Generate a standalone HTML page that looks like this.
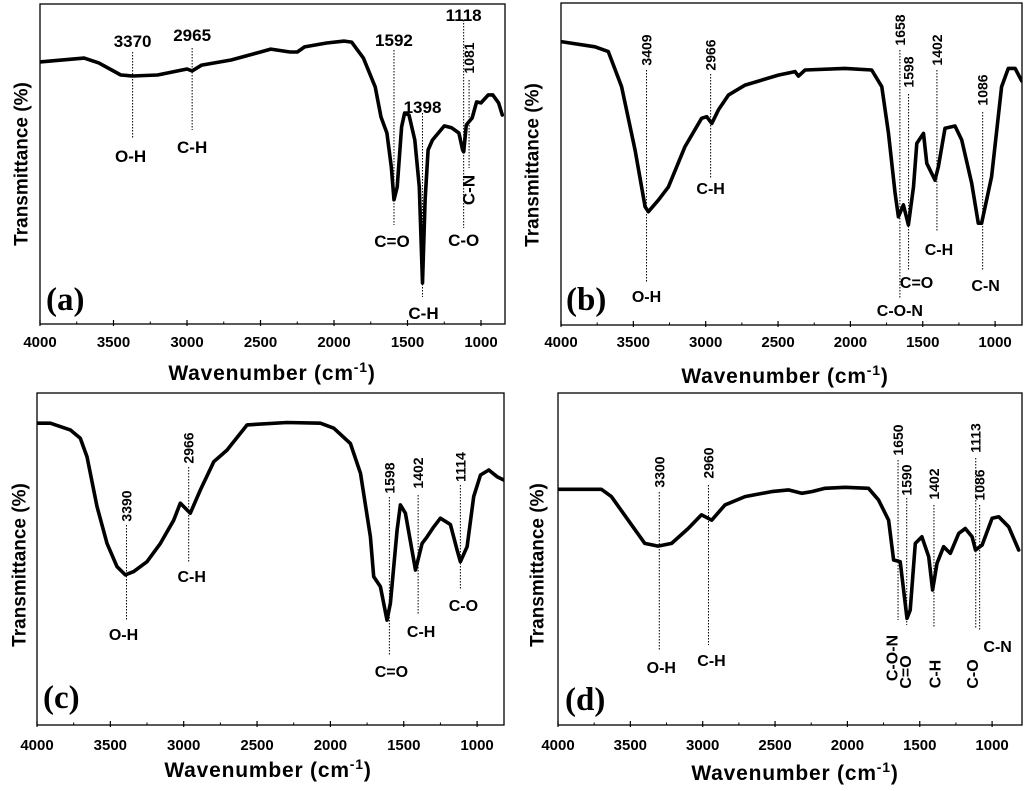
<!DOCTYPE html>
<html><head><meta charset="utf-8">
<style>
html,body{margin:0;padding:0;background:#fff;}
svg{display:block;}
text{font-family:"Liberation Sans",Arial,sans-serif;fill:#000;}
.tk{font-size:15px;font-weight:bold;}
.ax{font-size:21px;font-weight:bold;letter-spacing:0.8px;}
.yl{font-size:19px;font-weight:bold;}
.pl{font-family:"Liberation Serif",serif;font-size:33px;font-weight:bold;}
.an{font-size:16px;font-weight:bold;}
.ar{font-size:14px;font-weight:bold;}
.anA{font-size:17px;font-weight:bold;}
</style></head>
<body>
<svg id="fig" width="1024" height="791" viewBox="0 0 1024 791" xmlns="http://www.w3.org/2000/svg"></svg>
<script>
// ---- data (transmittance, 0 = bottom of frame, 100 = top of frame) ----
const wnA = [4000,3700,3600,3450,3370,3200,3000,2965,2900,2700,2500,2430,2300,2250,2200,2050,1930,1880,1800,1720,1680,1640,1610,1592,1570,1540,1520,1490,1450,1420,1398,1380,1360,1330,1250,1200,1150,1125,1118,1100,1060,1030,1000,950,920,880,855];
const tA  = [81.9,83.1,81.6,77.8,77.5,77.8,79.7,79.1,80.9,82.5,85,85.9,85,85,86.6,87.8,88.4,88.1,83.1,74.1,64.7,59.7,49.1,38.8,42.8,61.6,65.9,65.3,57.5,42.8,12.8,38.8,54.4,57.5,61.9,61.3,59.7,54.4,53.8,62.2,64.4,69.4,69.1,71.6,71.6,69.1,65.3];
const wnB = [4000,3765,3673,3581,3488,3419,3396,3327,3258,3143,3028,2993,2958,2912,2843,2728,2498,2383,2359,2313,2037,1853,1783,1737,1691,1668,1634,1599,1564,1541,1495,1472,1415,1392,1346,1277,1231,1162,1116,1093,1024,955,909,862,816];
const tB  = [88.0,86.4,84.9,74.0,54.3,36.7,35.2,38.8,42.9,55.4,64.2,64.7,62.6,66.8,71.4,74.5,77.6,78.7,77.3,79.2,79.7,79.2,74.0,59.5,40.9,33.6,37.3,31.1,42.9,56.4,59.5,50.2,45.0,49.2,61.1,61.8,57.5,44.0,31.6,31.6,46.1,74.0,79.7,79.7,75.8];
const wnC = [4000,3909,3773,3705,3659,3591,3523,3455,3398,3341,3250,3159,3068,3023,2955,2886,2795,2705,2568,2295,2068,1977,1864,1795,1727,1705,1659,1614,1591,1545,1523,1489,1420,1375,1341,1295,1250,1182,1136,1114,1068,1023,977,920,864,818];
const tC  = [90.9,90.9,88.9,86.4,80.8,65.8,54.7,47.7,45.2,46.2,49.2,54.7,61.7,66.8,63.8,70.8,79.3,82.8,90.4,91.1,90.9,89.4,84.8,75.8,56.7,44.7,41.7,31.6,36.7,58.7,66.3,63.8,46.7,54.7,56.7,59.7,62.3,60.4,52.7,49.2,53.7,68.8,75.3,76.8,74.8,73.8];
const wnD = [4000,3700,3631,3515,3400,3308,3215,3100,3008,2938,2846,2708,2523,2408,2316,2246,2154,2015,1854,1785,1715,1681,1635,1588,1566,1531,1485,1438,1411,1381,1335,1289,1231,1185,1138,1115,1069,1000,954,885,816];
const tD  = [71.0,71.0,68.8,61.7,54.7,53.9,54.7,59.2,63.3,61.7,66.3,68.8,70.3,70.8,69.8,70.3,71.3,71.6,71.3,67.8,61.7,49.7,49.2,32.1,34.6,54.7,56.7,50.7,40.7,48.7,53.7,51.7,57.7,59.2,56.7,52.7,54.2,62.3,62.7,59.7,52.7];
const tickVals = [4000,3500,3000,2500,2000,1500,1000];
const minorVals = [3750,3250,2750,2250,1750,1250];

const NS="http://www.w3.org/2000/svg";
const svg=document.getElementById('fig');
function mk(tag,attrs,parent,txt){const e=document.createElementNS(NS,tag);for(const k in attrs)e.setAttribute(k,attrs[k]);if(txt!==undefined)e.textContent=txt;(parent||svg).appendChild(e);return e;}

const panels=[
 {id:'a',L:40,R:505,T:4,B:324,x4000:40,k:0.147,wn:wnA,t:tA,letter:'(a)',lx:46,ly:310,titleX:272,titleY:380,ylX:22,ylY:164,tickY:347,cls:'anA',
  ann:[
   {w:3370,num:'3370',rot:false,ny:47,l1:52,l2:138,lab:'O-H',lr:false,lx:-2,ly:162},
   {w:2965,num:'2965',rot:false,ny:41,l1:48,l2:130,lab:'C-H',lr:false,lx:0,ly:153},
   {w:1592,num:'1592',rot:false,ny:46,l1:50,l2:225,lab:'C=O',lr:false,lx:-2,ly:247},
   {w:1398,num:'1398',rot:false,ny:113,l1:113,l2:297,lab:'C-H',lr:false,lx:1,ly:319},
   {w:1118,num:'1118',rot:false,ny:21,l1:20,l2:228,lab:'C-O',lr:false,lx:0,ly:246},
   {w:1081,num:'1081',rot:true,nc:58,l1:80,l2:168,lab:'C-N',lr:true,lx:0,lc:190}
  ]},
 {id:'b',L:561,R:1022,T:3,B:325,x4000:561,k:0.1447,wn:wnB,t:tB,letter:'(b)',lx:566,ly:310,titleX:785,titleY:383,ylX:533,ylY:165,tickY:347,cls:'an',
  ann:[
   {w:3409,num:'3409',rot:true,nc:50,l1:70,l2:283,lab:'O-H',lr:false,lx:0,ly:302},
   {w:2966,num:'2966',rot:true,nc:55,l1:74,l2:178,lab:'C-H',lr:false,lx:0,ly:194},
   {w:1658,num:'1658',rot:true,nc:30,l1:50,l2:298,lab:'C-O-N',lr:false,lx:0,ly:316},
   {w:1598,num:'1598',rot:true,nc:72,l1:94,l2:270,lab:'C=O',lr:false,lx:8,ly:288},
   {w:1402,num:'1402',rot:true,nc:50,l1:70,l2:232,lab:'C-H',lr:false,lx:2,ly:255},
   {w:1086,num:'1086',rot:true,nc:90,l1:112,l2:270,lab:'C-N',lr:false,lx:3,ly:291}
  ]},
 {id:'c',L:37,R:504,T:393,B:725,x4000:37,k:0.1467,wn:wnC,t:tC,letter:'(c)',lx:43,ly:708,titleX:268,titleY:777,ylX:20,ylY:565,tickY:750,cls:'an',
  ann:[
   {w:3390,num:'3390',rot:true,nc:506,l1:525,l2:620,lab:'O-H',lr:false,lx:-3,ly:640},
   {w:2966,num:'2966',rot:true,nc:448,l1:467,l2:563,lab:'C-H',lr:false,lx:3,ly:582},
   {w:1598,num:'1598',rot:true,nc:478,l1:497,l2:655,lab:'C=O',lr:false,lx:2,ly:677},
   {w:1402,num:'1402',rot:true,nc:473,l1:495,l2:615,lab:'C-H',lr:false,lx:3,ly:637},
   {w:1114,num:'1114',rot:true,nc:467,l1:485,l2:590,lab:'C-O',lr:false,lx:3,ly:611}
  ]},
 {id:'d',L:558,R:1022,T:393,B:725,x4000:558,k:0.1447,wn:wnD,t:tD,letter:'(d)',lx:565,ly:710,titleX:795,titleY:780,ylX:538,ylY:565,tickY:750,cls:'an',
  ann:[
   {w:3300,num:'3300',rot:true,nc:472,l1:492,l2:650,lab:'O-H',lr:false,lx:2,ly:673},
   {w:2960,num:'2960',rot:true,nc:463,l1:485,l2:645,lab:'C-H',lr:false,lx:3,ly:666},
   {w:1650,num:'1650',rot:true,nc:440,l1:460,l2:620,lab:'C-O-N',lr:true,lx:-5,lc:658},
   {w:1590,num:'1590',rot:true,nc:480,l1:498,l2:625,lab:'C=O',lr:true,lx:0,lc:672},
   {w:1402,num:'1402',rot:true,nc:484,l1:505,l2:628,lab:'C-H',lr:true,lx:2,lc:674},
   {w:1113,num:'1113',rot:true,nc:438,l1:458,l2:628,lab:'C-O',lr:true,lx:-2,lc:674},
   {w:1086,num:'1086',rot:true,nc:485,l1:505,l2:630,lab:'C-N',lr:false,lx:18,ly:652}
  ]}
];

panels.forEach(p=>{
  const g=mk('g',{});
  
  
  const xs=w=>p.x4000+(4000-w)*p.k;
  const ys=v=>p.B-(v/100)*(p.B-p.T);
  const cp=mk('clipPath',{id:'clip'+p.id},g);
  mk('rect',{x:p.L,y:p.T,width:p.R-p.L,height:p.B-p.T},cp);
  const fr=mk('rect',{x:p.L,y:p.T,width:p.R-p.L,height:p.B-p.T,fill:'none',stroke:'#000','stroke-width':1.3},g);
  
  
  tickVals.forEach(v=>{
    mk('line',{x1:xs(v),x2:xs(v),y1:p.B-4,y2:p.B+2,stroke:'#000','stroke-width':1.2},g);
    const t=mk('text',{x:xs(v),y:p.tickY,'text-anchor':'middle',class:'tk'},g,String(v));
    
    
  });
  minorVals.forEach(v=>{mk('line',{x1:xs(v),x2:xs(v),y1:p.B-2.5,y2:p.B,stroke:'#000','stroke-width':1},g);});
  const xt=mk('text',{x:p.titleX,y:p.titleY,'text-anchor':'middle',class:'ax'},g);
  
  
  mk('tspan',{},xt,'Wavenumber (cm');
  mk('tspan',{dy:-8,'font-size':14},xt,'-1');
  mk('tspan',{dy:8},xt,')');
  const yt=mk('text',{x:p.ylX,y:p.ylY,'text-anchor':'middle',class:'yl',transform:'rotate(-90 '+(p.ylX)+' '+p.ylY+')','dominant-baseline':'central'},g,'Transmittance (%)');
  
  
  const pl=mk('text',{x:p.lx,y:p.ly,class:'pl'},g,p.letter);
  
  
  p.ann.forEach(a=>{
    const x=xs(a.w);
    const ln=mk('line',{x1:x,x2:x,y1:a.l1,y2:a.l2,stroke:'#000','stroke-width':1,'stroke-dasharray':'1.5,1.5'},g);
    
    
    let nt;
    if(a.rot){
      nt=mk('text',{x:x,y:a.nc,'text-anchor':'middle','dominant-baseline':'central',class:'ar',transform:'rotate(-90 '+x+' '+a.nc+')'},g,a.num);
    } else {
      nt=mk('text',{x:x,y:a.ny,'text-anchor':'middle',class:p.cls},g,a.num);
    }
    
    
    let lt;
    if(a.lr){
      const lx=x+a.lx;
      lt=mk('text',{x:lx,y:a.lc,'text-anchor':'middle','dominant-baseline':'central',class:p.cls,transform:'rotate(-90 '+lx+' '+a.lc+')'},g,a.lab);
    } else {
      lt=mk('text',{x:x+a.lx,y:a.ly,'text-anchor':'middle',class:p.cls},g,a.lab);
    }
    
    
  });
  let d='';
  p.wn.forEach((w,i)=>{d+=(i?'L':'M')+xs(w).toFixed(1)+','+ys(p.t[i]).toFixed(1);});
  const path=mk('path',{d:d,fill:'none',stroke:'#000','stroke-width':3.6,'stroke-linejoin':'round','stroke-linecap':'round','clip-path':'url(#clip'+p.id+')'},g);
  
  
});
</script>
</body></html>
